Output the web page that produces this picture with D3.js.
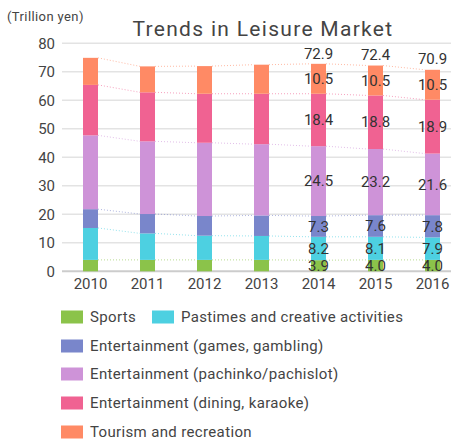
<!DOCTYPE html>
<html>
<head>
<meta charset="utf-8">
<script src="https://d3js.org/d3.v7.min.js"></script>
<style>
  body { margin: 0; background: #fff; }
  svg text { font-family: Roboto, "DejaVu Sans", sans-serif; fill: #444; }
</style>
</head>
<body>
<svg></svg>
<script>
// data (trillion yen)
var years = ["2010", "2011", "2012", "2013", "2014", "2015", "2016"];
var seriesNames = ["Sports", "Pastimes and creative activities", "Entertainment (games, gambling)",
  "Entertainment (pachinko/pachislot)", "Entertainment (dining, karaoke)", "Tourism and recreation"];
var sports    = [4.0, 4.0, 4.0, 4.0, 3.9, 4.0, 4.0];
var pastimes  = [11.2, 9.3, 8.5, 8.4, 8.2, 8.1, 7.9];
var games     = [6.6, 6.8, 6.9, 7.2, 7.3, 7.6, 7.8];
var pachinko  = [25.9, 25.5, 25.7, 25.0, 24.5, 23.2, 21.6];
var dining    = [17.7, 17.2, 17.2, 17.7, 18.4, 18.8, 18.9];
var tourism   = [9.5, 9.1, 9.7, 10.2, 10.5, 10.5, 10.5];
var totals    = [null, null, null, null, 72.9, 72.4, 70.9];
var yTicks = [0, 10, 20, 30, 40, 50, 60, 70, 80];
var colors = ["#8bc34a", "#4dd0e1", "#7986cb", "#ce93d8", "#f06292", "#ff8a65"];

var width = 451, height = 442;
var svg = d3.select("svg").attr("width", width).attr("height", height);

var series = [sports, pastimes, games, pachinko, dining, tourism];
var table = years.map(function(y, i) {
  var row = { year: y };
  series.forEach(function(s, k) { row[k] = s[i]; });
  return row;
});
var stack = d3.stack().keys(d3.range(series.length))(table);

var x = d3.scaleBand().domain(years).range([62, 461]);
var y = d3.scaleLinear().domain([0, 80]).range([271.3, 43.3]);
var barW = 15;

// grid
svg.append("g").selectAll("line").data(yTicks).join("line")
  .attr("x1", 62).attr("x2", width)
  .attr("y1", function(d) { return y(d); }).attr("y2", function(d) { return y(d); })
  .attr("stroke", function(d) { return d === 0 ? "#ccc" : "#e3e3e3"; })
  .attr("stroke-width", function(d) { return d === 0 ? 2 : 1.5; });

// y labels
svg.append("g").selectAll("text").data(yTicks).join("text")
  .attr("x", 55).attr("y", function(d) { return y(d); })
  .attr("dy", "0.35em").attr("text-anchor", "end")
  .style("font-size", "15px").text(function(d) { return d; });

// x labels
svg.append("g").selectAll("text").data(years).join("text")
  .attr("x", function(d) { return x(d) + x.bandwidth() / 2; }).attr("y", 284)
  .attr("dy", "0.35em").attr("text-anchor", "middle")
  .style("font-size", "15px").text(function(d) { return d; });

// dotted connectors
stack.forEach(function(layer, k) {
  svg.append("g").selectAll("line").data(layer.slice(0, -1)).join("line")
    .attr("x1", function(d, i) { return x(years[i]) + x.bandwidth() / 2 + barW / 2; })
    .attr("x2", function(d, i) { return x(years[i + 1]) + x.bandwidth() / 2 - barW / 2; })
    .attr("y1", function(d) { return y(d[1]); })
    .attr("y2", function(d, i) { return y(layer[i + 1][1]); })
    .attr("stroke", colors[k]).attr("stroke-opacity", 0.6)
    .attr("stroke-width", 1).attr("stroke-dasharray", "1,2");
});

// bars
stack.forEach(function(layer, k) {
  svg.append("g").selectAll("rect").data(layer).join("rect")
    .attr("x", function(d, i) { return x(years[i]) + x.bandwidth() / 2 - barW / 2; })
    .attr("width", barW)
    .attr("y", function(d) { return y(d[1]); })
    .attr("height", function(d) { return y(d[0]) - y(d[1]); })
    .attr("fill", colors[k]);
});

// value labels (2014-)
stack.forEach(function(layer, k) {
  svg.append("g").selectAll("text").data(layer.filter(function(d, i) { return totals[i] !== null; })).join("text")
    .attr("x", function(d) { return x(d.data.year) + x.bandwidth() / 2; })
    .attr("y", function(d) { return y((d[0] + d[1]) / 2); })
    .attr("dy", "0.35em").attr("text-anchor", "middle")
    .style("font-size", "15px").style("fill", "#333")
    .text(function(d) { return series[k][years.indexOf(d.data.year)].toFixed(1); });
});
svg.append("g").selectAll("text").data(years.filter(function(d, i) { return totals[i] !== null; })).join("text")
  .attr("x", function(d) { return x(d) + x.bandwidth() / 2; })
  .attr("y", function(d) { return y(totals[years.indexOf(d)]) - 10; })
  .attr("dy", "0.35em").attr("text-anchor", "middle")
  .style("font-size", "15px").style("fill", "#333")
  .text(function(d) { return totals[years.indexOf(d)].toFixed(1); });

// title and unit
svg.append("text").attr("x", 263).attr("y", 36).attr("text-anchor", "middle")
  .style("font-size", "21px").style("letter-spacing", "1.3px").text("Trends in Leisure Market");
svg.append("text").attr("x", 7).attr("y", 21)
  .style("font-size", "13px").style("letter-spacing", "0.4px").text("(Trillion yen)");

// legend
var legendPos = [[61, 317], [152, 317], [61, 346], [61, 374], [61, 403], [61, 432]];
var lg = svg.append("g").selectAll("g").data(seriesNames).join("g")
  .attr("transform", function(d, i) { return "translate(" + legendPos[i][0] + "," + legendPos[i][1] + ")"; });
lg.append("rect").attr("x", 0).attr("y", -6.5).attr("width", 22).attr("height", 13)
  .attr("fill", function(d, i) { return colors[i]; });
lg.append("text").attr("x", 29).attr("dy", "0.35em")
  .style("font-size", "15px").style("letter-spacing", "0.35px").text(function(d) { return d; });
</script>
</body>
</html>
